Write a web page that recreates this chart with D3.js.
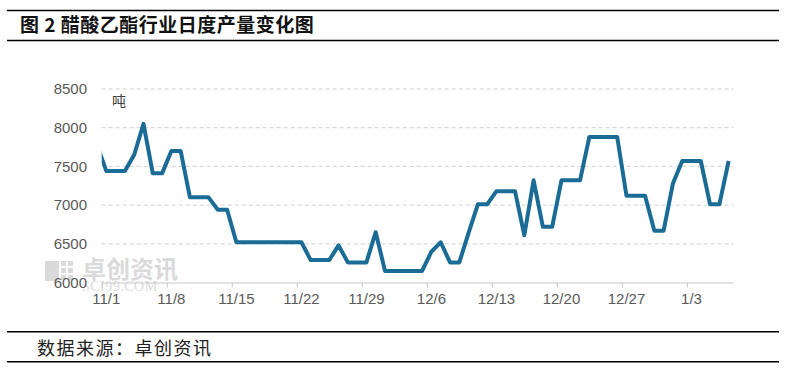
<!DOCTYPE html>
<html>
<head>
<meta charset="utf-8">
<script src="https://cdn.jsdelivr.net/npm/d3@7"></script>
<style>
  body { margin: 0; background: #fff; }
  svg text { font-family: "Liberation Sans", Arial, sans-serif; }
</style>
</head>
<body>
<div id="chart"></div>
<script>
// daily output, tons; first value (10/31) lies left of the axis and gets clipped
var startDate = "2022-10-31";
var values = [
  7780,
  7440, 7440, 7440, 7650, 8050, 7410, 7410,
  7700, 7700, 7100, 7100, 7100, 6940, 6940,
  6520, 6520, 6520, 6520, 6520, 6520, 6520,
  6520, 6290, 6290, 6290, 6480, 6260, 6260,
  6260, 6650, 6150, 6150, 6150, 6150, 6150,
  6400, 6520, 6260, 6260, 6640, 7010, 7010,
  7180, 7180, 7180, 6610, 7320, 6720, 6720,
  7320, 7320, 7320, 7880, 7880, 7880, 7880,
  7120, 7120, 7120, 6670, 6670, 7280, 7570,
  7570, 7570, 7010, 7010, 7570
];
var tickDates = ["2022-11-01", "2022-11-08", "2022-11-15", "2022-11-22", "2022-11-29",
                 "2022-12-06", "2022-12-13", "2022-12-20", "2022-12-27", "2023-01-03"];
var yTicks = [6000, 6500, 7000, 7500, 8000, 8500];

var title = "图 2 醋酸乙酯行业日度产量变化图";
var source = "数据来源：卓创资讯";
var unit = "吨";

var width = 792, height = 372;
var plot = { left: 101.7, right: 733.3, top: 89, bottom: 282.5 };

var parse = d3.timeParse("%Y-%m-%d");
var start = parse(startDate);
var data = values.map(function (v, i) {
  return { date: d3.timeDay.offset(start, i), value: v };
});

var svg = d3.select("#chart").append("svg")
  .attr("width", width)
  .attr("height", height);

// frame lines
[10.5, 40.5, 331.7, 361.7].forEach(function (yy) {
  svg.append("line")
    .attr("x1", 7).attr("x2", 779)
    .attr("y1", yy).attr("y2", yy)
    .attr("stroke", "#000").attr("stroke-width", 1.5);
});

svg.append("text")
  .attr("x", 20).attr("y", 32)
  .style("font-family", "'Noto Sans CJK SC', sans-serif")
  .style("font-weight", "bold")
  .style("font-size", "19px")
  .style("letter-spacing", "0.5px")
  .attr("fill", "#111")
  .text(title.replace(/ /g, "\u00a0"));

svg.append("text")
  .attr("x", 37).attr("y", 355)
  .style("font-family", "'Noto Sans CJK SC', sans-serif")
  .style("font-size", "18px")
  .style("letter-spacing", "1.5px")
  .attr("fill", "#222")
  .text(source);

// x scale: categories centred on each day
var x = d3.scaleTime()
  .domain([d3.timeHour.offset(parse("2022-11-01"), -12), d3.timeHour.offset(parse("2023-01-07"), 12)])
  .range([plot.left, plot.right]);

var y = d3.scaleLinear()
  .domain([6000, 8500])
  .range([plot.bottom, plot.top]);

// watermark (light, behind the chart)
var wm = svg.append("g").attr("opacity", 0.3);
wm.append("rect").attr("x", 45).attr("y", 261).attr("width", 14).attr("height", 20).attr("fill", "#888");
[[61, 261], [68, 261], [61, 268], [68, 268], [61, 275], [68, 275]].forEach(function (p) {
  wm.append("rect").attr("x", p[0]).attr("y", p[1]).attr("width", 5).attr("height", 5).attr("fill", "#888");
});
wm.append("text")
  .attr("x", 82).attr("y", 278)
  .style("font-family", "'Noto Sans CJK SC', sans-serif")
  .style("font-size", "24px").style("font-weight", "bold")
  .attr("fill", "#888")
  .text("卓创资讯");
wm.append("text")
  .attr("x", 82).attr("y", 291)
  .style("font-family", "'Liberation Serif', serif")
  .style("font-size", "14px")
  .style("letter-spacing", "0.5px")
  .attr("fill", "#888")
  .text("SCI99.COM");

// gridlines
svg.append("g")
  .selectAll("line")
  .data(yTicks.slice(1))
  .enter()
  .append("line")
  .attr("x1", plot.left).attr("x2", plot.right)
  .attr("y1", function (d) { return y(d); })
  .attr("y2", function (d) { return y(d); })
  .attr("stroke", "#d0d0d0")
  .attr("stroke-dasharray", "4,3");

// y axis labels
svg.append("g")
  .selectAll("text")
  .data(yTicks)
  .enter()
  .append("text")
  .attr("x", 87)
  .attr("y", function (d) { return y(d); })
  .attr("dy", "0.35em")
  .attr("text-anchor", "end")
  .style("font-size", "15px")
  .attr("fill", "#595959")
  .text(function (d) { return d; });

svg.append("text")
  .attr("x", 112).attr("y", 106)
  .style("font-family", "'Noto Sans CJK SC', sans-serif")
  .style("font-size", "14px")
  .attr("fill", "#404040")
  .text(unit);

// x axis
var tickList = tickDates.map(parse);
var xAxis = d3.axisBottom(x)
  .tickValues(tickList.map(function (d) { return d3.timeHour.offset(d, -12); }))
  .tickSize(5)
  .tickFormat("");
var gx = svg.append("g")
  .attr("transform", "translate(0," + plot.bottom + ")")
  .call(xAxis);
gx.select(".domain").attr("stroke", "#c8c8c8").attr("d", "M" + plot.left + ",0.5H" + plot.right);
gx.selectAll(".tick line").attr("stroke", "#c8c8c8");

svg.append("g")
  .selectAll("text")
  .data(tickList)
  .enter()
  .append("text")
  .attr("x", function (d) { return x(d); })
  .attr("y", 304)
  .attr("text-anchor", "middle")
  .style("font-size", "15px")
  .attr("fill", "#595959")
  .text(function (d) { return (d.getMonth() + 1) + "/" + d.getDate(); });

// line
svg.append("clipPath").attr("id", "plotclip")
  .append("rect")
  .attr("x", plot.left).attr("y", 0)
  .attr("width", plot.right - plot.left).attr("height", height);

var line = d3.line()
  .x(function (d) { return x(d.date); })
  .y(function (d) { return y(d.value); });

svg.append("path")
  .datum(data)
  .attr("clip-path", "url(#plotclip)")
  .attr("fill", "none")
  .attr("stroke", "#1a6c96")
  .attr("stroke-width", 4)
  .attr("stroke-linejoin", "round")
  .attr("d", line);
</script>
</body>
</html>
